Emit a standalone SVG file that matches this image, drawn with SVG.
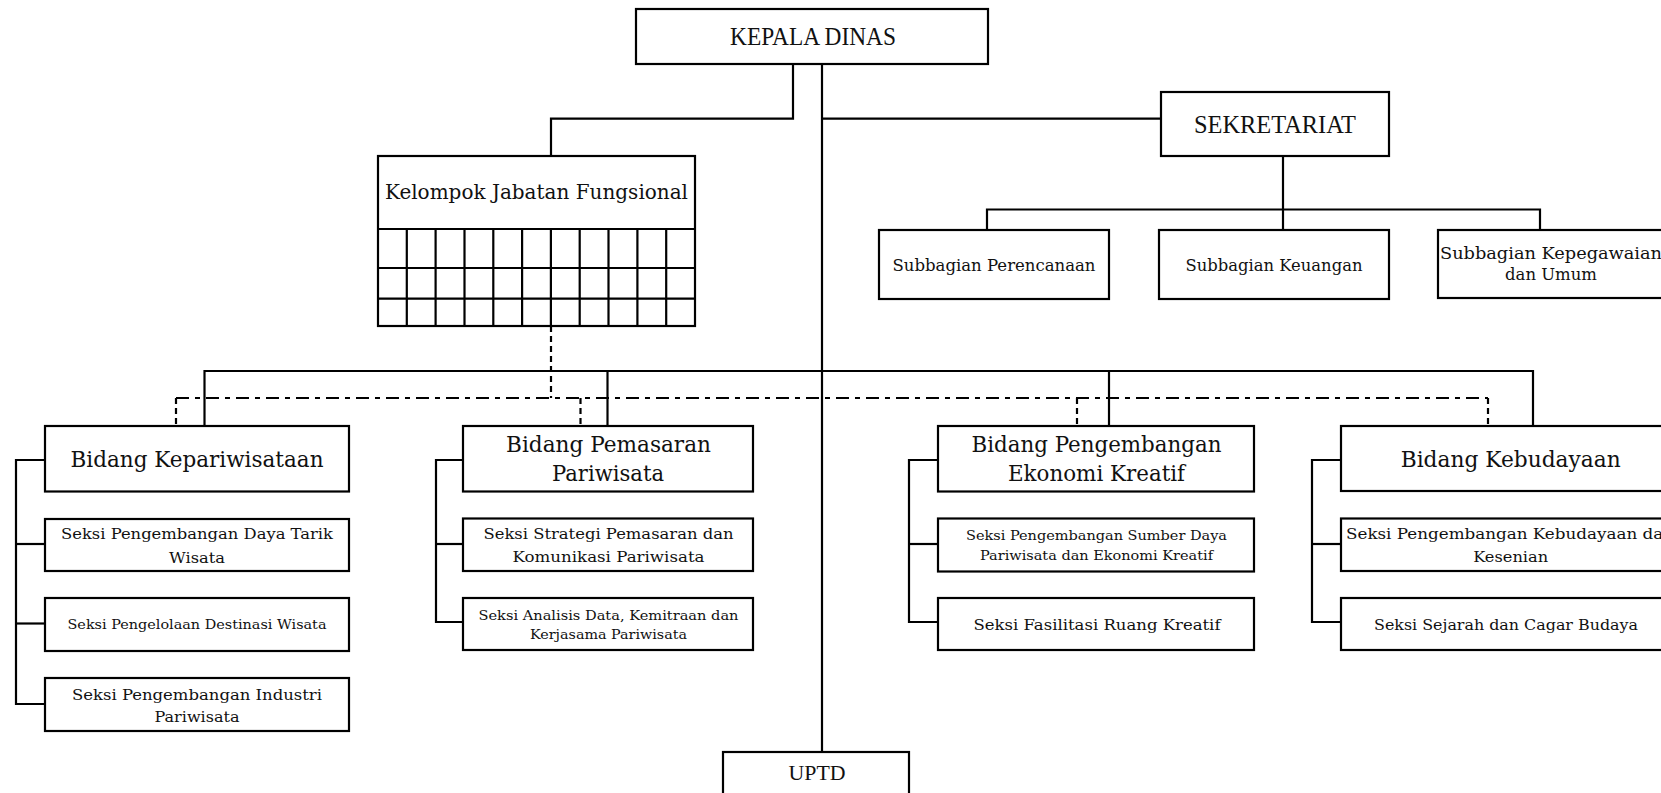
<svg xmlns="http://www.w3.org/2000/svg" width="1661" height="793" viewBox="0 0 1661 793">
<style>
rect{fill:#fff;stroke:#000;stroke-width:2.2}
.ln{fill:none;stroke:#000;stroke-width:2.2}
.dl{fill:none;stroke:#000;stroke-width:2.2;stroke-dasharray:13 6 5 6}
.dv{fill:none;stroke:#000;stroke-width:2.2;stroke-dasharray:6 4}
text{fill:#111;text-anchor:middle}
.a{font-family:"Liberation Serif","Times New Roman",serif}
.b{font-family:"DejaVu Serif","Liberation Serif",serif}
.h{font-size:25px}
.k{font-size:20.5px}
.bd{font-size:22.5px}
.sb{font-size:16.5px}
.s1{font-size:15.5px}
.s2{font-size:13.5px}
</style>
<rect width="1661" height="793" style="fill:#fff;stroke:none"/>
<g id="connectors">
<polyline class="ln" points="793,64 793,118.6 551,118.6 551,156"/>
<line class="ln" x1="822" y1="64" x2="822" y2="752"/>
<line class="ln" x1="822" y1="118.6" x2="1161" y2="118.6"/>
<line class="ln" x1="1283" y1="156" x2="1283" y2="229"/>
<polyline class="ln" points="987,229 987,209.5 1540,209.5 1540,229"/>
<line class="ln" x1="204.5" y1="371" x2="1533" y2="371"/>
<line class="ln" x1="204.5" y1="370" x2="204.5" y2="426"/>
<line class="ln" x1="607.5" y1="371" x2="607.5" y2="426"/>
<line class="ln" x1="1109" y1="371" x2="1109" y2="426"/>
<line class="ln" x1="1533" y1="370" x2="1533" y2="426"/>
<line class="dv" x1="551" y1="326" x2="551" y2="398"/>
<line class="dl" x1="176" y1="398" x2="1488" y2="398"/>
<line class="dv" x1="176" y1="398" x2="176" y2="426"/>
<line class="dv" x1="580.5" y1="398" x2="580.5" y2="426"/>
<line class="dv" x1="1077" y1="398" x2="1077" y2="426"/>
<line class="dv" x1="1488" y1="398" x2="1488" y2="426"/>
<polyline class="ln" points="45,460 16,460 16,704 45,704"/>
<line class="ln" x1="16" y1="544" x2="45" y2="544"/>
<line class="ln" x1="16" y1="623.5" x2="45" y2="623.5"/>
<polyline class="ln" points="463,460 436,460 436,622 463,622"/>
<line class="ln" x1="436" y1="544" x2="463" y2="544"/>
<polyline class="ln" points="938,460 909,460 909,622 938,622"/>
<line class="ln" x1="909" y1="544" x2="938" y2="544"/>
<polyline class="ln" points="1341,460 1312,460 1312,622 1341,622"/>
<line class="ln" x1="1312" y1="544" x2="1341" y2="544"/>
</g>
<g id="kepala-dinas">
<rect x="636" y="9" width="352" height="55"/>
<text class="a h" x="813" y="45" textLength="166" lengthAdjust="spacingAndGlyphs">KEPALA DINAS</text>
</g>
<g id="sekretariat">
<rect x="1161" y="92" width="228" height="64"/>
<text class="a h" x="1275" y="132.5" textLength="162" lengthAdjust="spacingAndGlyphs">SEKRETARIAT</text>
</g>
<g id="subbagian-perencanaan">
<rect x="879" y="230" width="230" height="69"/>
<text class="b sb" x="994" y="270.5" textLength="203" lengthAdjust="spacingAndGlyphs">Subbagian Perencanaan</text>
</g>
<g id="subbagian-keuangan">
<rect x="1159" y="230" width="230" height="69"/>
<text class="b sb" x="1274" y="270.5" textLength="177" lengthAdjust="spacingAndGlyphs">Subbagian Keuangan</text>
</g>
<g id="subbagian-kepegawaian">
<rect x="1438" y="230" width="250" height="68"/>
<text class="b sb" x="1551" y="258.5" textLength="222" lengthAdjust="spacingAndGlyphs">Subbagian Kepegawaian</text>
<text class="b sb" x="1551" y="280" textLength="92" lengthAdjust="spacingAndGlyphs">dan Umum</text>
</g>
<g id="kelompok-jabatan-fungsional">
<rect x="378" y="156" width="317" height="170"/>
<text class="b k" x="536.5" y="199" textLength="303" lengthAdjust="spacingAndGlyphs">Kelompok Jabatan Fungsional</text>
<path class="ln" d="M378,229H695M378,268H695M378,298.7H695M406.8,229V326M435.6,229V326M464.5,229V326M493.3,229V326M522.1,229V326M550.9,229V326M579.7,229V326M608.5,229V326M637.4,229V326M666.2,229V326"/>
</g>
<g id="bidang-kepariwisataan">
<rect x="45" y="426" width="304" height="65.5"/>
<text class="b bd" x="197" y="467" textLength="253" lengthAdjust="spacingAndGlyphs">Bidang Kepariwisataan</text>
</g>
<g id="seksi-daya-tarik">
<rect x="45" y="519" width="304" height="52"/>
<text class="b s1" x="197" y="539.3" textLength="272" lengthAdjust="spacingAndGlyphs">Seksi Pengembangan Daya Tarik</text>
<text class="b s1" x="197" y="562.7" textLength="56" lengthAdjust="spacingAndGlyphs">Wisata</text>
</g>
<g id="seksi-destinasi">
<rect x="45" y="598" width="304" height="53"/>
<text class="b s2" x="197" y="629.3" textLength="259" lengthAdjust="spacingAndGlyphs">Seksi Pengelolaan Destinasi Wisata</text>
</g>
<g id="seksi-industri">
<rect x="45" y="678" width="304" height="53"/>
<text class="b s1" x="197" y="700" textLength="250" lengthAdjust="spacingAndGlyphs">Seksi Pengembangan Industri</text>
<text class="b s1" x="197" y="721.7" textLength="85" lengthAdjust="spacingAndGlyphs">Pariwisata</text>
</g>
<g id="bidang-pemasaran">
<rect x="463" y="426" width="290" height="65.5"/>
<text class="b bd" x="608.5" y="452" textLength="205" lengthAdjust="spacingAndGlyphs">Bidang Pemasaran</text>
<text class="b bd" x="608" y="481" textLength="112" lengthAdjust="spacingAndGlyphs">Pariwisata</text>
</g>
<g id="seksi-strategi">
<rect x="463" y="518.5" width="290" height="52.5"/>
<text class="b s1" x="608.5" y="539.3" textLength="250" lengthAdjust="spacingAndGlyphs">Seksi Strategi Pemasaran dan</text>
<text class="b s1" x="608.5" y="562.3" textLength="192" lengthAdjust="spacingAndGlyphs">Komunikasi Pariwisata</text>
</g>
<g id="seksi-analisis">
<rect x="463" y="598" width="290" height="52"/>
<text class="b s2" x="608.5" y="620" textLength="260" lengthAdjust="spacingAndGlyphs">Seksi Analisis Data, Kemitraan dan</text>
<text class="b s2" x="608.5" y="639.3" textLength="157" lengthAdjust="spacingAndGlyphs">Kerjasama Pariwisata</text>
</g>
<g id="bidang-ekonomi-kreatif">
<rect x="938" y="426" width="316" height="65.5"/>
<text class="b bd" x="1096.5" y="452" textLength="250" lengthAdjust="spacingAndGlyphs">Bidang Pengembangan</text>
<text class="b bd" x="1096.5" y="481" textLength="177" lengthAdjust="spacingAndGlyphs">Ekonomi Kreatif</text>
</g>
<g id="seksi-sumber-daya">
<rect x="938" y="518.5" width="316" height="53"/>
<text class="b s2" x="1096.5" y="540" textLength="261" lengthAdjust="spacingAndGlyphs">Seksi Pengembangan Sumber Daya</text>
<text class="b s2" x="1096.5" y="560" textLength="233" lengthAdjust="spacingAndGlyphs">Pariwisata dan Ekonomi Kreatif</text>
</g>
<g id="seksi-ruang-kreatif">
<rect x="938" y="598" width="316" height="52"/>
<text class="b s1" x="1097" y="630" textLength="247" lengthAdjust="spacingAndGlyphs">Seksi Fasilitasi Ruang Kreatif</text>
</g>
<g id="bidang-kebudayaan">
<rect x="1341" y="426" width="340" height="65"/>
<text class="b bd" x="1510.7" y="467" textLength="220" lengthAdjust="spacingAndGlyphs">Bidang Kebudayaan</text>
</g>
<g id="seksi-kebudayaan">
<rect x="1341" y="518.5" width="340" height="52.5"/>
<text class="b s1" x="1510" y="539.3" textLength="328" lengthAdjust="spacingAndGlyphs">Seksi Pengembangan Kebudayaan dan</text>
<text class="b s1" x="1510.7" y="562.3" textLength="75" lengthAdjust="spacingAndGlyphs">Kesenian</text>
</g>
<g id="seksi-sejarah">
<rect x="1341" y="598" width="340" height="52"/>
<text class="b s1" x="1506" y="629.5" textLength="264" lengthAdjust="spacingAndGlyphs">Seksi Sejarah dan Cagar Budaya</text>
</g>
<g id="uptd">
<rect x="723" y="752" width="186" height="60"/>
<text class="a" x="817" y="780" style="font-size:22px" textLength="57" lengthAdjust="spacingAndGlyphs">UPTD</text>
</g>
</svg>
